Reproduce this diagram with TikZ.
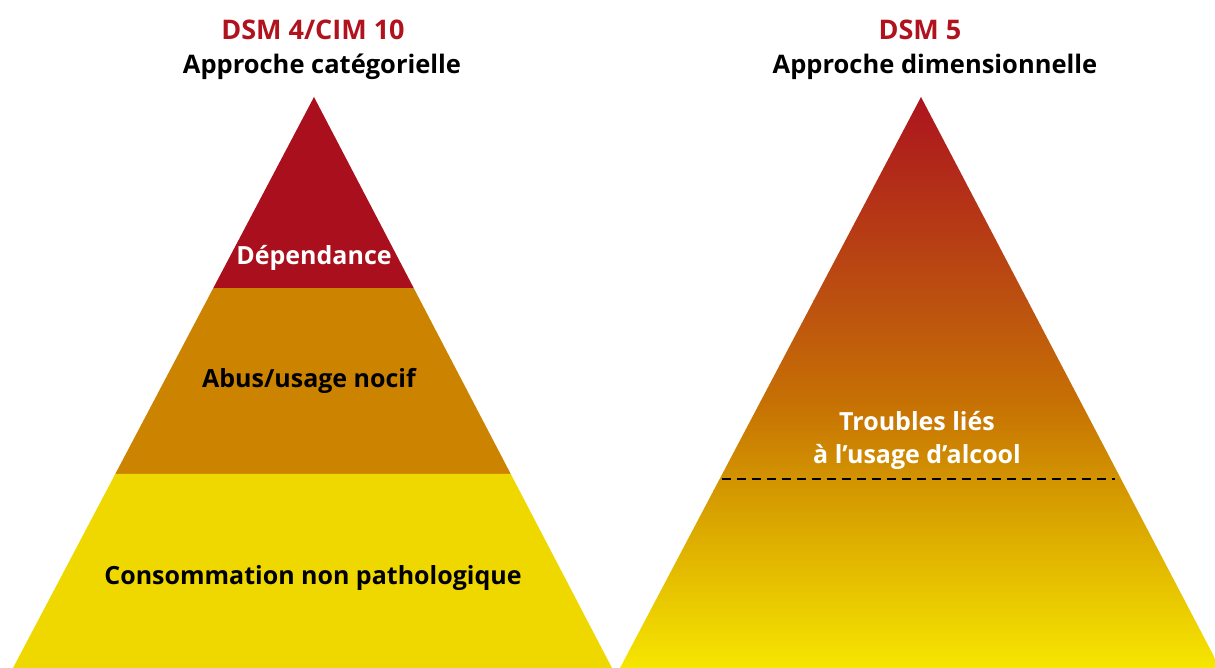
\documentclass[tikz,border=0pt]{standalone}
\usepackage{fontspec}
\setmainfont{Open Sans}
\usetikzlibrary{calc}
\definecolor{dsmred}{RGB}{176,18,30}
\definecolor{layred}{RGB}{169,15,28}
\definecolor{layorange}{RGB}{204,132,0}
\definecolor{layyellow}{RGB}{239,216,0}
\definecolor{gradred}{RGB}{172,20,30}
\definecolor{gradrust}{RGB}{188,80,16}
\definecolor{gradorange}{RGB}{198,112,4}
\definecolor{gradamber}{RGB}{212,152,0}
\definecolor{gradyellow}{RGB}{246,230,0}
\tikzset{
  title/.style={font=\bfseries\fontsize{27}{32}\selectfont,text=dsmred},
  subtitle/.style={font=\bfseries\fontsize{25.5}{30}\selectfont,text=black},
  layer/.style={font=\bfseries\fontsize{25}{33}\selectfont,align=center}
}
\begin{document}
\begin{tikzpicture}[x=1pt,y=-1pt]
  \useasboundingbox (0,0) rectangle (1215,668);
  \coordinate (Ltop) at (314,97);
  \coordinate (Lleft) at (13,668);
  \coordinate (Lright) at (612,668);
  \coordinate (Rtop) at (921,97);
  \coordinate (Rleft) at (620,668);
  \coordinate (Rright) at (1220,668);
  \coordinate (La) at ($(Ltop)!0.3345!(Lleft)$);
  \coordinate (Lb) at ($(Ltop)!0.3345!(Lright)$);
  \coordinate (Lc) at ($(Ltop)!0.660!(Lleft)$);
  \coordinate (Ld) at ($(Ltop)!0.660!(Lright)$);
  \coordinate (Ra) at ($(Rtop)!0.669!(Rleft)$);
  \coordinate (Rb) at ($(Rtop)!0.669!(Rright)$);
  \fill[layred] (Ltop) -- (Lb) -- (La) -- cycle;
  \fill[layorange] (La) -- (Lb) -- (Ld) -- (Lc) -- cycle;
  \fill[layyellow] (Lc) -- (Ld) -- (Lright) -- (Lleft) -- cycle;
  \begin{scope}
    \clip (Rtop) -- (Rright) -- (Rleft) -- cycle;
    \shade[top color=gradred,bottom color=gradrust] (600,97) rectangle (1230,300);
    \shade[top color=gradrust,bottom color=gradorange] (600,300) rectangle (1230,400);
    \shade[top color=gradorange,bottom color=gradamber] (600,400) rectangle (1230,490);
    \shade[top color=gradamber,bottom color=gradyellow] (600,490) rectangle (1230,668);
  \end{scope}
  \draw[line width=2.8pt,dash pattern=on 9pt off 6pt,black] ($(Ra)+(2,0)$) -- ($(Rb)-(6,0)$);
  \node[title] (dsmfour) at (313,30) {DSM 4/CIM 10};
  \node[subtitle] (categ) at (322,67) {Approche catégorielle};
  \node[title] (dsmfive) at (920,30) {DSM 5};
  \node[subtitle] (dimen) at (935,67) {Approche dimensionnelle};
  \node[layer,text=white] (dep) at (314,258) {Dépendance};
  \node[layer] (abus) at (309,381) {Abus/usage nocif};
  \node[layer] (conso) at (313,578) {Consommation non pathologique};
  \node[layer,text=white] (troubles) at (917,440) {Troubles liés\\à l’usage d’alcool};
\end{tikzpicture}
\end{document}
